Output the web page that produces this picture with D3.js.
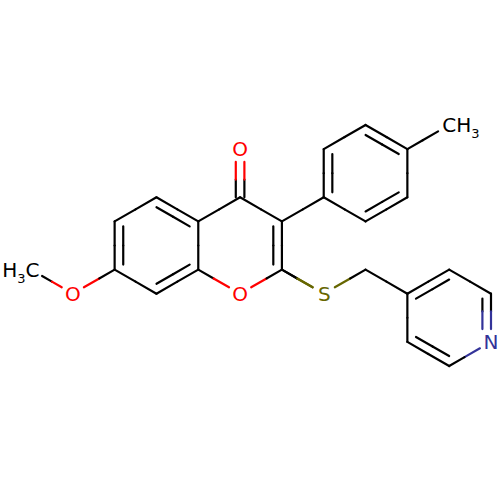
<!DOCTYPE html>
<html>
<head>
<meta charset="utf-8">
<script src="https://cdn.jsdelivr.net/npm/d3@7"></script>
<style>
html,body{margin:0;padding:0;background:#fff}
svg{display:block}
text{font-family:"DejaVu Sans",sans-serif}
</style>
</head>
<body>
<div id="chart"></div>
<script>
// Atoms: element, then position on the hexagonal drawing grid
const atomElements = ["C","O","C","C","C","C","C","C","C","O","C","O","C","C","C","C","C","C","C","S","C","C","C","C","N","C","C","C"];
const atomCols =     [ 0 , 1 , 2 , 2 , 3 , 4 , 4 , 3 , 5 , 5 , 6 , 5 , 6 , 7 , 7 , 8 , 9 , 9 , 8 , 7 , 8 , 9 ,10 ,11 ,11 ,10 , 9 ,10 ];
const atomRows =     [ 6 , 7 , 6 , 4 , 3 , 4 , 6 , 7 , 3 , 1 , 4 , 7 , 6 , 3 , 1 , 0 , 1 , 3 , 4 , 7 , 6 , 7 , 6 , 7 , 9 ,10 , 9 , 0 ];

const bondFrom =  [0,1,2,3,4,5,6,7,5,8,8,10,6,11,12,10,13,14,15,16,17,18,16,19,20,21,22,23,24,25,26,12];
const bondTo =    [1,2,3,4,5,6,7,2,8,9,10,12,11,12,19,13,14,15,16,17,18,13,27,20,21,22,23,24,25,26,21,19];
const bondOrder = [1,1,2,1,2,1,2,1,1,2, 1, 2, 1, 1, 1, 1, 2, 1, 2, 1, 2, 1, 1, 1, 1, 2, 1, 2, 1, 2, 1, 1];

const rings = [[2,3,4,5,6,7],[5,8,10,12,11,6],[13,14,15,16,17,18],[21,22,23,24,25,26]];

const elementColors = {C:"#000000",O:"#ff0000",S:"#666600",N:"#333399"};
const labels = [
  {atom:0, parts:[["H",0],["3",1],["C",0]], anchor:"end"},
  {atom:27, parts:[["C",0],["H",0],["3",1]], anchor:"start"},
  {atom:1, parts:[["O",0]], anchor:"middle"},
  {atom:9, parts:[["O",0]], anchor:"middle"},
  {atom:11, parts:[["O",0]], anchor:"middle"},
  {atom:19, parts:[["S",0]], anchor:"middle"},
  {atom:24, parts:[["N",0]], anchor:"middle"}
];

const svg = d3.select("#chart").append("svg").attr("width",500).attr("height",500);
svg.append("rect").attr("width",500).attr("height",500).attr("fill","#fff");

const x = d3.scaleLinear().domain([0,11]).range([31,491]);
const y = d3.scaleLinear().domain([0,10]).range([125,366]);
const px = i => [x(atomCols[i]), y(atomRows[i])];
const hasLabel = i => atomElements[i] !== "C" || i === 0 || i === 27;

const trim = 12.8, innerOffset = 8.6, innerShrink = 5, pairOffset = 4.3;
const segments = [];

function addSeg(p, q, a, b, tBreak){
  const m = [p[0]+(q[0]-p[0])*tBreak, p[1]+(q[1]-p[1])*tBreak];
  segments.push({p:p,q:m,c:elementColors[atomElements[a]]});
  segments.push({p:m,q:q,c:elementColors[atomElements[b]]});
}

bondFrom.forEach((a,k)=>{
  const b = bondTo[k], order = bondOrder[k];
  const A = px(a), B = px(b);
  const dx = B[0]-A[0], dy = B[1]-A[1], L = Math.hypot(dx,dy);
  const ux = dx/L, uy = dy/L, nx = -uy, ny = ux;
  const t0 = hasLabel(a) ? trim : 0, t1 = hasLabel(b) ? trim : 0;
  const P = d => [A[0]+ux*d, A[1]+uy*d];
  const mid = (t0 + (L-t1))/2;
  const line = (off, s, e) => {
    const p = P(s), q = P(e);
    const pp = [p[0]+nx*off, p[1]+ny*off], qq = [q[0]+nx*off, q[1]+ny*off];
    addSeg(pp, qq, a, b, (mid-s)/(e-s));
  };
  if(order === 1){ line(0,t0,L-t1); return; }
  const ring = rings.find(r => r.includes(a) && r.includes(b));
  if(!ring){ line(-pairOffset,t0,L-t1); line(pairOffset,t0,L-t1); return; }
  const c = [d3.mean(ring,i=>px(i)[0]), d3.mean(ring,i=>px(i)[1])];
  const side = ((c[0]-A[0])*nx + (c[1]-A[1])*ny) > 0 ? 1 : -1;
  line(0,t0,L-t1);
  line(side*innerOffset, hasLabel(a)?trim:innerShrink, L-(hasLabel(b)?trim:innerShrink));
});

svg.append("g").selectAll("line").data(segments).join("line")
  .attr("x1",d=>d.p[0]).attr("y1",d=>d.p[1])
  .attr("x2",d=>d.q[0]).attr("y2",d=>d.q[1])
  .attr("stroke",d=>d.c).attr("stroke-width",2.2).attr("stroke-linecap","round");

const fs = 20, subFs = 13, subShift = 6, base = 7.3;
const t = svg.append("g").selectAll("text").data(labels).join("text")
  .attr("fill",d=>elementColors[atomElements[d.atom]])
  .attr("font-size",fs)
  .attr("x",d=>px(d.atom)[0] + (d.atom===0?8.5:d.atom===27?-7:d.atom===19?0.6:0))
  .attr("y",d=>px(d.atom)[1]+base)
  .attr("text-anchor",d=>d.anchor);
t.each(function(d){
  const s = d3.select(this);
  let prevSub = 0;
  d.parts.forEach(([txt,sub])=>{
    s.append("tspan").text(txt)
      .attr("font-size",sub?subFs:fs)
      .attr("dy",(sub-prevSub)*subShift);
    prevSub = sub;
  });
});
</script>
</body>
</html>
